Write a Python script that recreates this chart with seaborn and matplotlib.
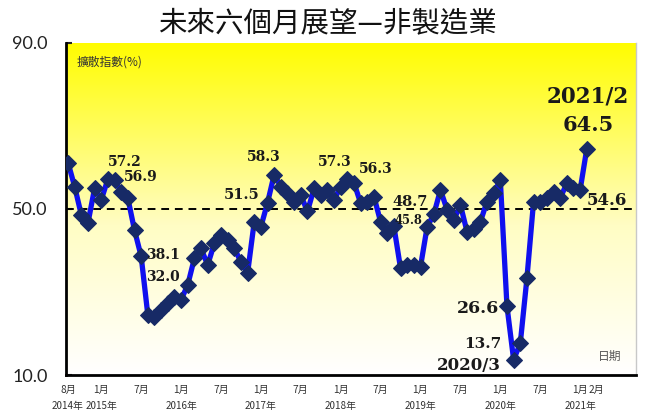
import numpy as np
import pandas as pd
import matplotlib
matplotlib.use('Agg')
import matplotlib.pyplot as plt
from matplotlib.colors import LinearSegmentedColormap
import seaborn as sns

# diffusion index, monthly from 2014/8 to 2021/2
values = [61.2, 55.4, 48.6, 46.6, 55.0, 52.2, 57.2, 56.9, 54.2, 52.6,
          44.9, 38.6, 24.5, 24.0, 25.7, 27.3, 28.9, 28.1, 31.7, 38.1,
          40.5, 36.5, 41.7, 43.7, 42.5, 40.5, 37.3, 34.5, 46.9, 45.7,
          51.5, 58.3, 55.4, 53.8, 51.8, 53.4, 49.4, 55.0, 53.4, 54.6,
          52.2, 55.4, 57.3, 56.3, 51.4, 51.8, 53.0, 46.9, 44.1, 45.8,
          35.7, 36.5, 36.5, 36.1, 45.7, 48.7, 54.6, 49.8, 47.3, 51.0,
          44.5, 45.3, 46.9, 51.8, 53.8, 57.0, 26.6, 13.7, 17.6, 33.3,
          51.8, 51.8, 52.6, 54.2, 52.6, 56.2, 55.0, 54.6, 64.5]
months = pd.date_range('2014-08-01', periods=len(values), freq='MS')

month_ticks = ['2014-08', '2015-01', '2015-07', '2016-01', '2016-07', '2017-01',
               '2017-07', '2018-01', '2018-07', '2019-01', '2019-07', '2020-01',
               '2020-07', '2021-01', '2021-02']
month_labels = ['8月', '1月', '7月', '1月', '7月', '1月', '7月', '1月',
                '7月', '1月', '7月', '1月', '7月', '1月', '2月']
year_ticks = ['2014-08', '2015-01', '2016-01', '2017-01', '2018-01',
              '2019-01', '2020-01', '2021-01']
year_labels = ['2014年', '2015年', '2016年', '2017年', '2018年',
               '2019年', '2020年', '2021年']

# callouts: text, x (month index), y (value), font size
callouts = [('57.2', 8.6, 61.4, 10), ('56.9', 10.9, 57.6, 10),
            ('38.1', 14.3, 38.9, 10), ('32.0', 14.3, 33.7, 10),
            ('58.3', 29.4, 62.6, 10), ('51.5', 26.1, 53.4, 10.5),
            ('57.3', 40.1, 61.4, 10), ('56.3', 46.2, 59.6, 10),
            ('48.7', 51.4, 51.8, 10.5), ('45.8', 51.2, 47.2, 8.3),
            ('54.6', 81.0, 52.0, 12), ('26.6', 61.7, 26.1, 12.5),
            ('13.7', 62.4, 17.4, 11), ('2020/3', 60.2, 12.2, 12),
            ('2021/2', 78.2, 77.1, 15.5), ('64.5', 78.2, 70.2, 15)]

df = pd.DataFrame({'idx': np.arange(len(values)), 'date': months, 'value': values})
pos_of = {d.strftime('%Y-%m'): i for i, d in enumerate(months)}

sns.set_theme(style='white')
plt.rcParams['font.family'] = ['Noto Sans CJK TC', 'DejaVu Sans']

fig = plt.figure(figsize=(6.56, 4.18), dpi=100)
ax = fig.add_axes([66 / 656, 1 - 375 / 418, 570 / 656, 332 / 418])

# white -> yellow vertical gradient
grad = LinearSegmentedColormap.from_list(
    'wy', [(0, '#ffffff'), (0.45, '#fffdc4'), (1, '#fffc00')])
ax.imshow(np.linspace(0, 1, 256).reshape(-1, 1), cmap=grad, origin='lower',
          aspect='auto', extent=[0, 1, 0, 1], transform=ax.transAxes, zorder=0)

ax.axhline(50, color='black', lw=1.4, ls=(0, (4, 3)), zorder=1)

sns.lineplot(data=df, x='idx', y='value', ax=ax, color='#1010ee', lw=3.8,
             marker='D', markersize=8.5, markerfacecolor='#172a66',
             markeredgecolor='#172a66', zorder=3)

ax.set_xlim(-0.3, 85.4)
ax.set_ylim(10, 90)
ax.set_yticks([10, 50, 90])
ax.set_yticklabels([f'{v:.1f}' for v in [10, 50, 90]], family='Lato',
                   fontsize=13, color='#222222')
ax.set_xticks([])
ax.tick_params(axis='y', direction='in', length=4, width=1.5, pad=13, left=True)
ax.set_xlabel('')
ax.set_ylabel('')

for side in ['left', 'bottom']:
    ax.spines[side].set_color('black')
    ax.spines[side].set_linewidth(2)
ax.spines['top'].set_visible(False)
ax.spines['right'].set_color('#c8c8c8')
ax.spines['right'].set_linewidth(1)

trans = ax.get_xaxis_transform()
for k, (t, lab) in enumerate(zip(month_ticks, month_labels)):
    p = pos_of[t] + (1.5 if k == len(month_ticks) - 1 else 0)
    ax.text(p, -0.045, lab, transform=trans, ha='center', va='center',
            fontsize=7.3, color='#333333', clip_on=False)
for t, lab in zip(year_ticks, year_labels):
    ax.text(pos_of[t], -0.094, lab, transform=trans, ha='center', va='center',
            fontsize=7.1, color='#333333', clip_on=False)

for txt, x, y, fs in callouts:
    ax.text(x, y, txt, ha='center', va='center', fontsize=fs,
            family='DejaVu Serif', fontweight='bold', color='#1a1a1a', zorder=4)

ax.text(0.019, 0.943, '擴散指數(%)', transform=ax.transAxes, ha='left',
        va='center', fontsize=8.5, color='#333333')
ax.text(81.4, 14.4, '日期', ha='center', va='center', fontsize=8.5, color='#555555')

fig.text(327 / 656, 1 - 23 / 418, '未來六個月展望—非製造業', ha='center',
         va='center', fontsize=20.5, color='#111111')

fig.savefig('out.png', dpi=100)
